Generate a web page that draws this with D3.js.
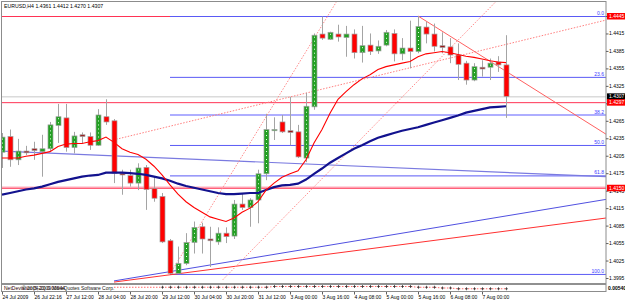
<!DOCTYPE html>
<html>
<head>
<meta charset="utf-8">
<script src="https://d3js.org/d3.v7.min.js"></script>
<style>
  body { margin: 0; background: #fff; }
  text { font-family: "Liberation Sans", Arial, sans-serif; }
</style>
</head>
<body>
<script>
// EURUSD H4 candles, 24 Jul 2009 .. 7 Aug 2009
const opens  = [1.4211,1.4238,1.4198,1.4213,1.4217,1.4212,1.4217,1.4257,1.4270,1.4219,
                1.4241,1.4238,1.4223,1.4272,1.4265,1.4175,1.4171,1.4158,1.4185,1.4149,
                1.4135,1.4059,1.4003,1.4020,1.4056,1.4083,1.4062,1.4057,1.4072,1.4067,
                1.4122,1.4116,1.4129,1.4174,1.4248,1.4263,1.4248,1.4246,1.4201,1.4289,
                1.4414,1.4405,1.4414,1.4408,1.4414,1.4382,1.4395,1.4385,1.4395,1.4415,
                1.4380,1.4390,1.4384,1.4426,1.4414,1.4394,1.4392,1.4378,1.4364,1.4335,
                1.4357,1.4357,1.4366,1.4361];
const highs  = [1.4244,1.4250,1.4234,1.4222,1.4229,1.4241,1.4263,1.4294,1.4294,1.4246,
                1.4245,1.4245,1.4285,1.4302,1.4268,1.4181,1.4181,1.4192,1.4189,1.4169,
                1.4141,1.4062,1.4049,1.4072,1.4092,1.4090,1.4083,1.4082,1.4082,1.4129,
                1.4141,1.4132,1.4181,1.4277,1.4271,1.4275,1.4306,1.4258,1.4313,1.4415,
                1.4444,1.4418,1.4430,1.4428,1.4422,1.4428,1.4415,1.4403,1.4421,1.4422,
                1.4407,1.4437,1.4445,1.4435,1.4432,1.4417,1.4407,1.4398,1.4368,1.4364,
                1.4369,1.4372,1.4376,1.4412];
const lows   = [1.4184,1.4186,1.4189,1.4206,1.4198,1.4169,1.4212,1.4227,1.4212,1.4209,
                1.4226,1.4215,1.4222,1.4258,1.4158,1.4138,1.4152,1.4146,1.4112,1.4126,
                1.4055,1.4002,1.4002,1.4017,1.4037,1.4037,1.4014,1.4052,1.4055,1.4062,
                1.4112,1.4083,1.4089,1.4163,1.4232,1.4244,1.4223,1.4201,1.4194,1.4284,
                1.4404,1.4404,1.4401,1.4375,1.4372,1.4365,1.4378,1.4380,1.4393,1.4367,
                1.4369,1.4355,1.4381,1.4398,1.4384,1.4381,1.4364,1.4335,1.4327,1.4333,
                1.4341,1.4335,1.4349,1.4270];
const closes = [1.4237,1.4198,1.4213,1.4210,1.4214,1.4217,1.4258,1.4272,1.4219,1.4239,
                1.4238,1.4223,1.4275,1.4263,1.4175,1.4172,1.4158,1.4184,1.4147,1.4132,
                1.4057,1.4003,1.4020,1.4056,1.4082,1.4062,1.4059,1.4072,1.4066,1.4122,
                1.4116,1.4129,1.4174,1.4250,1.4250,1.4246,1.4245,1.4203,1.4290,1.4412,
                1.4407,1.4417,1.4409,1.4414,1.4382,1.4394,1.4384,1.4393,1.4417,1.4380,
                1.4390,1.4384,1.4427,1.4414,1.4393,1.4391,1.4378,1.4362,1.4335,1.4358,
                1.4354,1.4364,1.4361,1.4307];

// moving averages
const fastMA = [1.4201,1.4201,1.4201,1.4204,1.4206,1.4209,1.4212,1.4221,1.4225,1.4226,
                1.4226,1.4229,1.4231,1.4237,1.4228,1.4217,1.4211,1.4207,1.4199,1.4187,
                1.4172,1.4155,1.4139,1.4126,1.4116,1.4108,1.4100,1.4096,1.4092,1.4098,
                1.4108,1.4115,1.4126,1.4146,1.4158,1.4168,1.4174,1.4179,1.4198,1.4227,
                1.4250,1.4278,1.4302,1.4315,1.4327,1.4337,1.4344,1.4353,1.4358,1.4361,
                1.4364,1.4367,1.4375,1.4380,1.4382,1.4384,1.4382,1.4379,1.4376,1.4374,
                1.4371,1.4368,1.4366,1.4365];
const slowMA = [1.4138,1.4141,1.4144,1.4147,1.4149,1.4152,1.4156,1.4160,1.4163,1.4166,
                1.4169,1.4171,1.4172,1.4176,1.4176,1.4176,1.4175,1.4174,1.4172,1.4169,
                1.4166,1.4162,1.4157,1.4153,1.4150,1.4147,1.4144,1.4141,1.4139,1.4139,
                1.4140,1.4141,1.4141,1.4146,1.4151,1.4154,1.4155,1.4157,1.4164,1.4174,
                1.4183,1.4193,1.4201,1.4209,1.4217,1.4223,1.4230,1.4236,1.4240,1.4244,
                1.4248,1.4251,1.4254,1.4258,1.4262,1.4266,1.4270,1.4274,1.4279,1.4282,
                1.4285,1.4288,1.4289,1.4290];

// time axis labels, one every 4 bars
const timeLabels = ["24 Jul 2009","26 Jul 22:16","27 Jul 12:00","28 Jul 04:00","28 Jul 20:00",
                    "29 Jul 12:00","30 Jul 04:00","30 Jul 20:00","31 Jul 12:00","3 Aug 00:00",
                    "3 Aug 16:00","4 Aug 08:00","5 Aug 00:00","5 Aug 16:00","6 Aug 08:00","7 Aug 00:00"];
const priceTicks = d3.range(16).map(k => 1.4445 - k * 0.003);

// horizontal price lines
const hiLine = 1.4445, bidLine = 1.4307, lvl1 = 1.4297, lvl2 = 1.4150;

// fibonacci retracement (low bar 21 -> high)
const fibStartBar = 21, fibHigh = 1.4445, fibLow = 1.4002;
const fibLevels = [0, 23.6, 38.2, 50.0, 61.8, 100.0];

// trend lines as [bar, price] anchors
const dotTrend1  = [[13.9, 1.4232], [75.5, 1.4438]];
const dotTrendA  = [[21, 1.4002], [36, 1.4339]];
const dotTrendB  = [[27.6, 1.3992], [61.9, 1.4472]];
const redTrendC  = [[52, 1.4445], [75.5, 1.4242]];
const blueTrendD = [[0, 1.4213], [75.5, 1.4169]];
const blueTrendE = [[14, 1.3990], [75.5, 1.4130]];
const redTrendF  = [[14, 1.3988], [75.5, 1.4098]];

// sub window indicator
const devStart = 14;
const devLine = [0.0055,0.0055,0.0055,0.0055,0.0055,0.0055,0.0055,0.0055,0.0055,0.0055,
                 0.0055,0.0055,0.0055,0.0055,0.0055,0.0055,0.0055,0.0055,0.0055,0.0055,
                 0.0056,0.0056,0.0056,0.0056,0.0056,0.0056,0.0056,0.0056,0.0056,0.0056,
                 0.0056,0.0056,0.0056,0.0056,0.0056,0.0056,0.0056,0.0056,0.0055,0.0055,
                 0.0055,0.0054,0.0054,0.0053,0.0053,0.0053,0.0053,0.0053,0.0053,0.0053];
const markStart = 20;

// ---------------------------------------------------------------
const W = 625, H = 301;
const pL = 2, pR = 606, pT = 2, pB = 283;

const svg = d3.select("body").append("svg")
    .attr("width", W).attr("height", H);

const x = d3.scaleLinear().domain([0, 75.5]).range([pL, pR]);
const y = d3.scaleLinear().domain([1.3995, 1.4445]).range([278, 16]);

svg.append("clipPath").attr("id", "plot")
  .append("rect").attr("x", pL).attr("y", pT)
    .attr("width", pR - pL).attr("height", pB - pT);

const g = svg.append("g").attr("clip-path", "url(#plot)");

// horizontal lines
g.append("line").attr("x1", pL).attr("x2", pR)
    .attr("y1", y(lvl2) - 0.5).attr("y2", y(lvl2) - 0.5)
    .attr("stroke", "#ffc8d2").attr("stroke-width", 2);
[[hiLine, "#ff3355"], [bidLine, "#c8c8c8"], [lvl1, "#ff3355"], [lvl2, "#ff3050"]].forEach(([p, c]) => {
  g.append("line").attr("x1", pL).attr("x2", pR)
      .attr("y1", y(p) + 0.5).attr("y2", y(p) + 0.5)
      .attr("stroke", c).attr("stroke-width", 1);
});

// fibo
const fibPrice = r => fibHigh - r / 100 * (fibHigh - fibLow);
fibLevels.forEach(r => {
  const yy = y(fibPrice(r)) + 0.5;
  g.append("line").attr("x1", x(fibStartBar)).attr("x2", pR)
      .attr("y1", yy).attr("y2", yy)
      .attr("stroke", r === 38.2 ? "#aeaeff" : "#5a5af5")
      .attr("stroke-width", r === 38.2 ? 2 : 1);
  g.append("text").attr("x", pR - 2).attr("y", yy - 1.5)
      .attr("text-anchor", "end").attr("font-size", 5)
      .attr("fill", "#3a3aff").text(r.toFixed(1));
});

// trend lines, extended to the right edge as rays
function ray(a) {
  const s = (a[1][1] - a[0][1]) / (a[1][0] - a[0][0]);
  return [a[0], [75.5, a[0][1] + s * (75.5 - a[0][0])]];
}
const line = d3.line().x(d => x(d[0])).y(d => y(d[1]));
function drawTrend(anchors, color, width, dash) {
  g.append("path").attr("d", line(ray(anchors)))
      .attr("fill", "none").attr("stroke", color)
      .attr("stroke-width", width)
      .attr("stroke-dasharray", dash || null);
}
drawTrend(blueTrendD, "#7a7ae0", 1.2);
drawTrend(blueTrendE, "#5050e0", 1);
drawTrend(redTrendF, "#ff3030", 1);
drawTrend(redTrendC, "#ff6060", 1);
drawTrend(dotTrend1, "#ff7f7f", 1, "1.5,1.5");
drawTrend(dotTrendA, "#ff8c8c", 1, "1.5,1.5");
drawTrend(dotTrendB, "#ff8c8c", 1, "1.5,1.5");

// candles
const bars = d3.range(opens.length).map(i => ({
  i: i, o: opens[i], h: highs[i], l: lows[i], c: closes[i]
}));

g.selectAll(".wick").data(bars).enter().append("line")
    .attr("x1", d => x(d.i) + 0.5).attr("x2", d => x(d.i) + 0.5)
    .attr("y1", d => y(d.h)).attr("y2", d => y(d.l))
    .attr("stroke", "#a4a4a4").attr("stroke-width", 1);

g.selectAll(".body").data(bars).enter().append("rect")
    .attr("x", d => x(d.i) - 2)
    .attr("y", d => y(Math.max(d.o, d.c)))
    .attr("width", 5)
    .attr("height", d => Math.max(1.2, Math.abs(y(d.o) - y(d.c))))
    .attr("fill", d => {
      const hgt = Math.abs(y(d.o) - y(d.c));
      if (d.c >= d.o) return "#22a022";
      return hgt < 2.5 ? "#9a1515" : "#ff0000";
    })
    .attr("stroke", "#a0a0a0").attr("stroke-width", 0.7);

// dotted highlight inside bull bodies
g.selectAll(".dots").data(bars.filter(d => d.c > d.o && y(d.o) - y(d.c) > 4)).enter().append("line")
    .attr("x1", d => x(d.i) + 0.5).attr("x2", d => x(d.i) + 0.5)
    .attr("y1", d => y(d.c) + 1.5).attr("y2", d => y(d.o) - 1)
    .attr("stroke", "#e8ffe8").attr("stroke-width", 1)
    .attr("stroke-dasharray", "1,3");

// moving averages
const maLine = d3.line().x((d, i) => x(i)).y(d => y(d));
g.append("path").attr("d", maLine(slowMA))
    .attr("fill", "none").attr("stroke", "#12128e").attr("stroke-width", 2.2);
g.append("path").attr("d", maLine(fastMA))
    .attr("fill", "none").attr("stroke", "#ff0000").attr("stroke-width", 1.1);

// frame
svg.append("rect").attr("x", pL - 0.5).attr("y", pT - 0.5)
    .attr("width", pR - pL + 0.5).attr("height", 292 - pT)
    .attr("fill", "none").attr("stroke", "#8c8c8c").attr("stroke-width", 1);
svg.append("line").attr("x1", pL).attr("x2", pR)
    .attr("y1", 284).attr("y2", 284)
    .attr("stroke", "#909090").attr("stroke-width", 2);

// title
svg.append("text").attr("x", 4).attr("y", 7.5).attr("font-size", 5.2)
    .attr("fill", "#000").text("EURUSD,H4  1.4361 1.4412 1.4270 1.4307");

// price axis
const pa = svg.append("g");
priceTicks.forEach(p => {
  pa.append("line").attr("x1", pR).attr("x2", pR + 2.5)
      .attr("y1", y(p) + 0.5).attr("y2", y(p) + 0.5).attr("stroke", "#606060");
  pa.append("text").attr("x", pR + 3).attr("y", y(p) + 2)
      .attr("font-size", 5).attr("fill", "#000").text(p.toFixed(4));
});
[[hiLine, "#ff0000", "#fff"], [bidLine, "#000", "#fff"], [lvl1, "#ff0000", "#fff"], [lvl2, "#ff0000", "#fff"]]
  .forEach(([p, bg, fg]) => {
    pa.append("rect").attr("x", pR + 1).attr("y", y(p) - 3)
        .attr("width", 19).attr("height", 6.5).attr("fill", bg);
    pa.append("text").attr("x", pR + 3).attr("y", y(p) + 2)
        .attr("font-size", 5).attr("fill", fg).text(p.toFixed(4));
  });

// sub window
const ys = d3.scaleLinear().domain([0.0050, 0.0058]).range([291, 285]);
const sub = svg.append("g");
sub.append("path")
    .attr("d", d3.line().x((d, i) => x(devStart + i)).y(d => ys(d))(devLine))
    .attr("fill", "none").attr("stroke", "#ff4040").attr("stroke-width", 0.8)
    .attr("stroke-dasharray", "1.5,1.5");
d3.range(markStart, opens.length).forEach(i => {
  const v = devLine[i - devStart];
  sub.append("line").attr("x1", x(i) + 0.5).attr("x2", x(i) + 0.5)
      .attr("y1", ys(v) - 1.5).attr("y2", ys(v) + 1.5).attr("stroke", "#202020").attr("stroke-width", 0.7);
  sub.append("line").attr("x1", x(i) - 1).attr("x2", x(i) + 2)
      .attr("y1", ys(v)).attr("y2", ys(v)).attr("stroke", "#202020").attr("stroke-width", 0.6);
});
sub.append("text").attr("x", 4).attr("y", 289.6).attr("font-size", 5)
    .attr("fill", "#300000").text("NetDeviation(5,20) 0.00544");
sub.append("text").attr("x", 22).attr("y", 289.6).attr("font-size", 5)
    .attr("fill", "#202020").text("\u00a9 2004-2009 MetaQuotes Software Corp.");
sub.append("text").attr("x", pR + 2).attr("y", 289.6).attr("font-size", 5)
    .attr("font-weight", "bold").attr("fill", "#000").text("0.00540");

// time axis
timeLabels.forEach((t, k) => {
  const xx = x(k * 4);
  svg.append("line").attr("x1", xx + 0.5).attr("x2", xx + 0.5)
      .attr("y1", 292).attr("y2", 294.5).attr("stroke", "#606060");
  svg.append("text").attr("x", xx + 0.5).attr("y", 298.5)
      .attr("font-size", 5).attr("fill", "#000").text(t);
});
</script>
</body>
</html>
